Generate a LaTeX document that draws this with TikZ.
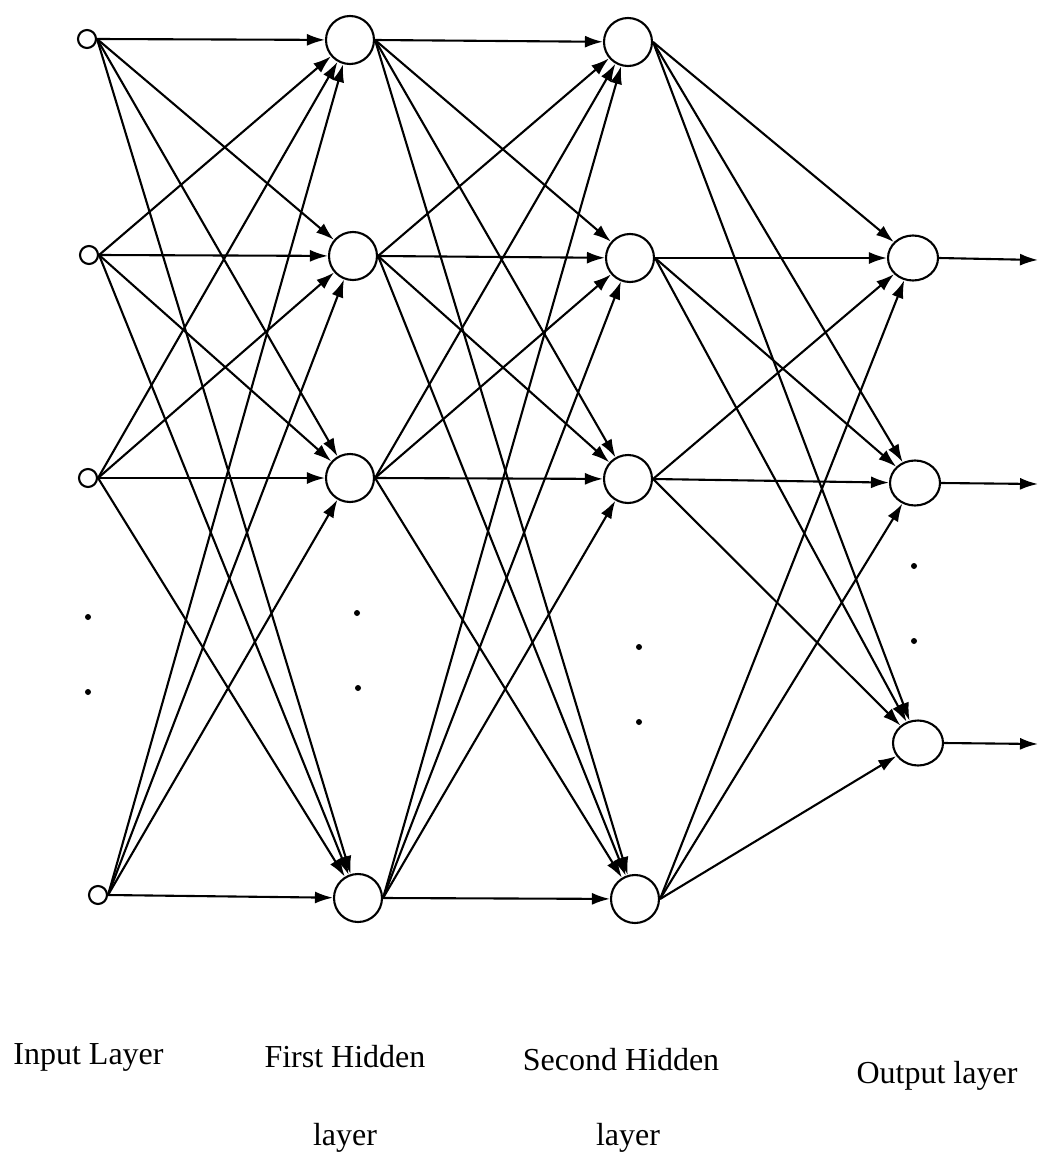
\documentclass[tikz,border=0pt]{standalone}
\usepackage{fontspec}
\setmainfont{Liberation Serif}
\usetikzlibrary{arrows.meta,shapes.geometric}
\begin{document}
\begin{tikzpicture}[x=1pt,y=-1pt,
  conn/.style={line width=2.1pt,-{Latex[length=18pt,width=12pt]}},
  inp/.style={circle,draw,line width=2.1pt,minimum size=18pt,inner sep=0pt},
  hid/.style={circle,draw,line width=2.1pt,minimum size=48pt,inner sep=0pt},
  outn/.style={ellipse,draw,line width=2.1pt,minimum width=50pt,minimum height=45pt,inner sep=0pt},
  dotn/.style={circle,fill,minimum size=6pt,inner sep=0pt},
  lab/.style={anchor=base,font=\fontsize{32}{38}\selectfont,inner sep=0pt}]
\useasboundingbox (0,0) rectangle (1038,1153);
% input layer
\node[inp] (i1) at (87,39) {};
\node[inp] (i2) at (89,255) {};
\node[inp] (i3) at (88,478) {};
\node[inp] (i4) at (98,895) {};
% first hidden layer
\node[hid] (h1) at (350,40) {};
\node[hid] (h2) at (353,256) {};
\node[hid] (h3) at (350,478) {};
\node[hid] (h4) at (358,898) {};
% second hidden layer
\node[hid] (g1) at (628,42) {};
\node[hid] (g2) at (630,258) {};
\node[hid] (g3) at (628,479) {};
\node[hid] (g4) at (635,899) {};
% output layer
\node[outn] (o1) at (913,258) {};
\node[outn] (o2) at (915,483) {};
\node[outn] (o3) at (918,743) {};
% output ends
\coordinate (e1) at (1038,260);
\coordinate (e2) at (1038,484);
\coordinate (e3) at (1038,744);
% dots
\node[dotn] (d1) at (88,617) {};
\node[dotn] (d2) at (88,692) {};
\node[dotn] (d3) at (357,613) {};
\node[dotn] (d4) at (358,688) {};
\node[dotn] (d5) at (639,647) {};
\node[dotn] (d6) at (639,722) {};
\node[dotn] (d7) at (914,566) {};
\node[dotn] (d8) at (914,641) {};
% connections
\foreach \a in {1,...,4}
  \foreach \b in {1,...,4}
    \draw[conn] (i\a.east) -- (h\b);
\foreach \a in {1,...,4}
  \foreach \b in {1,...,4}
    \draw[conn] (h\a.east) -- (g\b);
\foreach \a in {1,...,4}
  \foreach \b in {1,...,3}
    \draw[conn] (g\a.east) -- (o\b);
\foreach \b in {1,...,3}
  \draw[conn] (o\b.east) -- (e\b);
% labels
\node[lab] (l1) at (88.5,1064) {Input Layer};
\node[lab] (l2) at (345,1067) {First Hidden};
\node[lab] (l3) at (345,1145) {layer};
\node[lab] (l4) at (621,1070) {Second Hidden};
\node[lab] (l5) at (628,1145) {layer};
\node[lab] (l6) at (937,1083) {Output layer};
\end{tikzpicture}
\end{document}
